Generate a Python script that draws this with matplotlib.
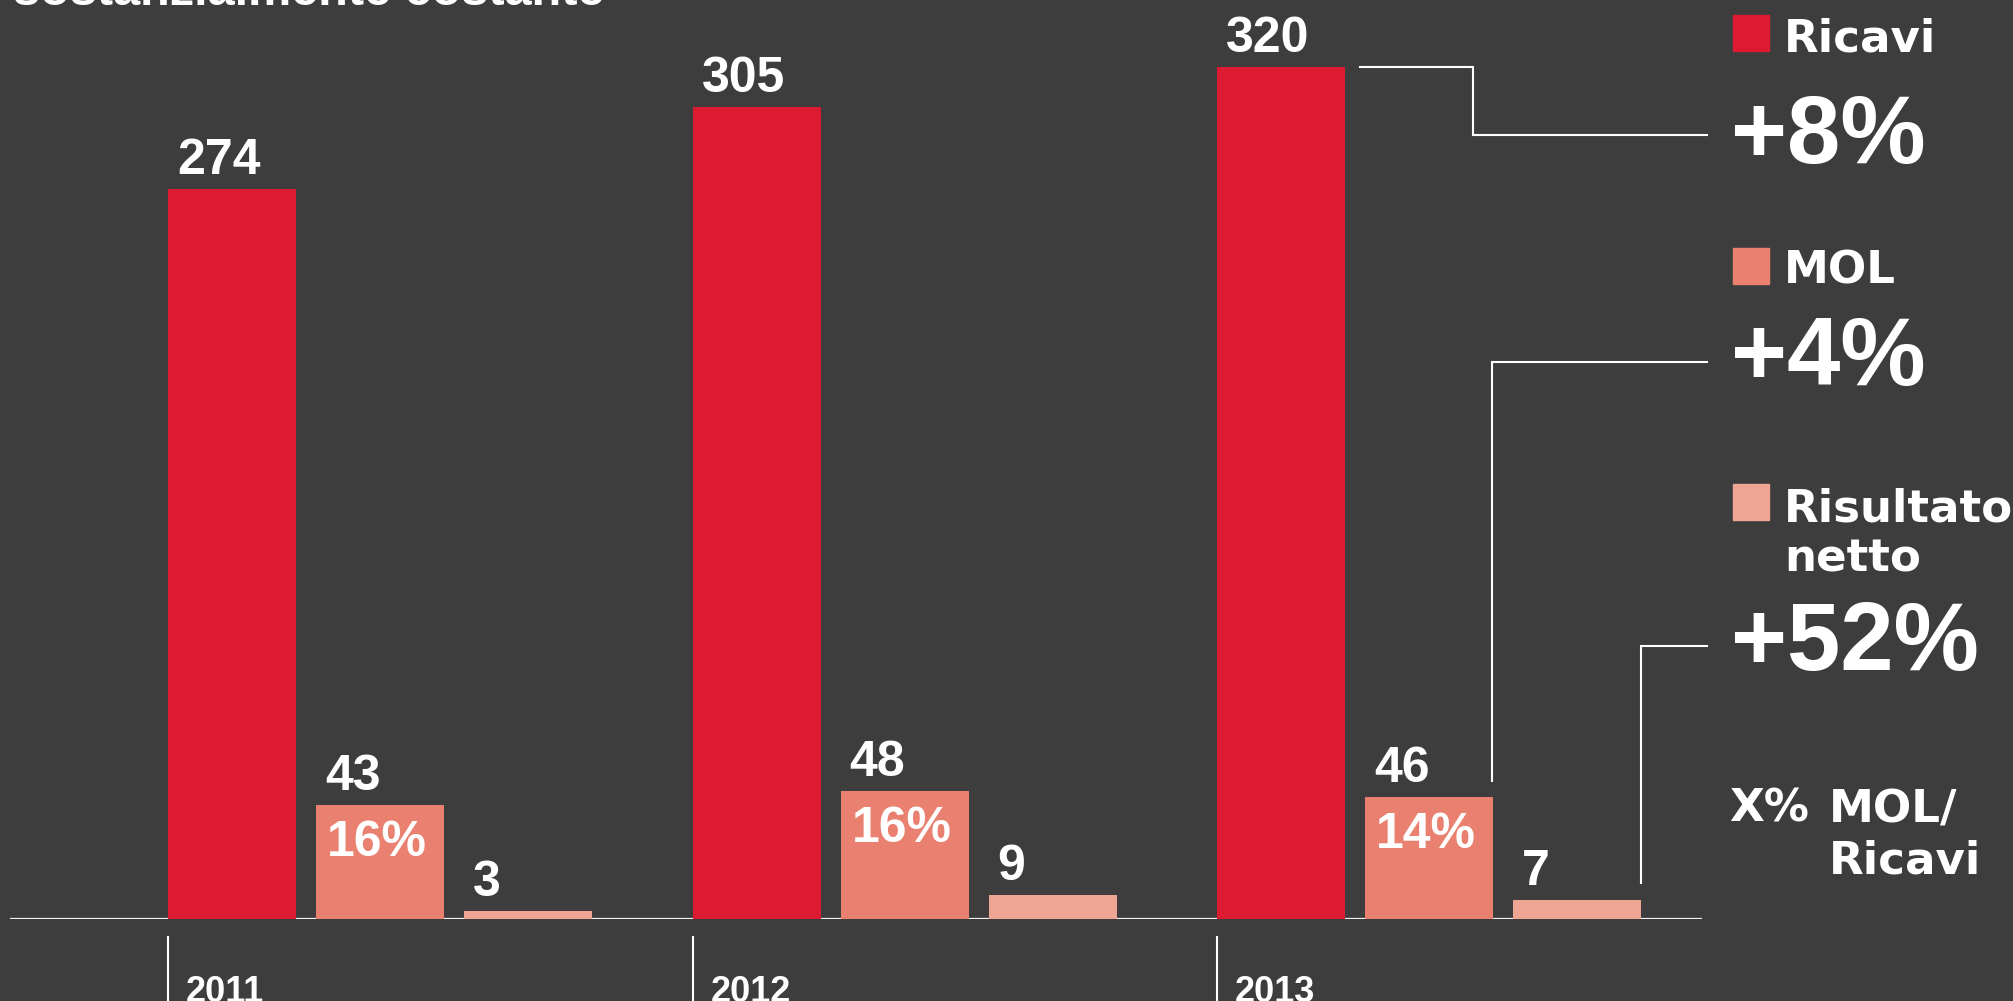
import matplotlib
matplotlib.use('Agg')
import matplotlib.pyplot as plt
from matplotlib import font_manager
from matplotlib.lines import Line2D
from matplotlib.patches import Rectangle
from matplotlib.transforms import IdentityTransform

# ---------------- data ----------------
years = ['2011', '2012', '2013']
ricavi = [274, 305, 320]
mol = [43, 48, 46]
risultato = [3, 9, 7]
mol_pct = ['16%', '16%', '14%']
series_names = ['Ricavi', 'MOL', 'Risultato netto']
changes = ['+8%', '+4%', '+52%']
title_text = 'sostanzialmente costante'
note_prefix = 'X%'
note_lines = ['MOL/', 'Ricavi']

# ---------------- style ----------------
W, H = 2013, 1001
BG = '#3d3d3d'
colors = ['#dc1a32', '#e98070', '#eea594']
FONT = 'Liberation Sans'
WIDE = 'DejaVu Sans'
names = {f.name for f in font_manager.fontManager.ttflist}
NARROW = 'Liberation Sans Narrow' if 'Liberation Sans Narrow' in names else FONT
narrow_kw = {} if NARROW != FONT else {'fontstretch': 'condensed'}

fig = plt.figure(figsize=(W / 100, H / 100), dpi=100, facecolor=BG)
unit = 524.5          # pixels per group
ppv = 2.6625          # pixels per value unit
ax = fig.add_axes([10 / W, 82 / H, 1692 / W, 919 / H])
ax.set_facecolor('none')
ax.set_xlim(-370 / unit, -370 / unit + 1692 / unit)
ax.set_ylim(0, 919 / ppv)
ax.axis('off')

off = 148 / unit
bw = 128 / unit
series = [ricavi, mol, risultato]

ax.axhline(0, color='#f2f2f2', lw=1.6, zorder=1)

for j, vals in enumerate(series):
    xs = [i + (j - 1) * off for i in range(len(years))]
    ax.bar(xs, vals, width=bw, color=colors[j], zorder=2)
    for x, v in zip(xs, vals):
        ax.annotate(str(v), xy=(x - bw / 2, v), xytext=(9, 15),
                    textcoords='offset pixels', ha='left', va='baseline',
                    fontsize=36, fontweight='bold', color='white', family=FONT)
    if j == 1:
        for x, v, p in zip(xs, vals, mol_pct):
            ax.annotate(p, xy=(x - bw / 2, v), xytext=(11, -51),
                        textcoords='offset pixels', ha='left', va='baseline',
                        fontsize=36, fontweight='bold', color='white', family=FONT, zorder=3)

# year ticks and labels
for i, y in enumerate(years):
    x = i - off - bw / 2
    ax.plot([x, x], [-18 / ppv, -85 / ppv], color='white', lw=1.5, clip_on=False)
    ax.annotate(y, xy=(x, 0), xytext=(18, -83), textcoords='offset pixels',
                ha='left', va='baseline', fontsize=26, fontweight='bold',
                color='white', family=NARROW, annotation_clip=False, **narrow_kw)

# title (cut off at top)
fig.text(13 / W, 1 - 5 / H, title_text, ha='left', va='baseline', fontsize=35,
         fontweight='bold', color='white', family=FONT)

# legend on the right
sq_top = [15, 248, 484]
name_base = [51, 284, 521]
chg_base = [163, 385, 670]
for j in range(3):
    fig.add_artist(Rectangle((1733 / W, 1 - (sq_top[j] + 36) / H), 36 / W, 36 / H,
                             transform=fig.transFigure, color=colors[j]))
    for k, line in enumerate(series_names[j].split(' ')):
        fig.text(1784 / W, 1 - (name_base[j] + 51 * k) / H, line, ha='left', va='baseline',
                 fontsize=32.5, fontweight='bold', color='white', family=WIDE)
    fig.text(1731 / W, 1 - chg_base[j] / H, changes[j], ha='left', va='baseline',
             fontsize=69, fontweight='bold', color='white', family=FONT)

fig.text(1729 / W, 1 - 822 / H, note_prefix, ha='left', va='baseline',
         fontsize=32.5, fontweight='bold', color='white', family=WIDE)
for k, line in enumerate(note_lines):
    fig.text(1829 / W, 1 - (822 + 51 * k) / H, line, ha='left', va='baseline',
             fontsize=32.5, fontweight='bold', color='white', family=WIDE)

# connector lines from 2013 bars to the change figures
fig.canvas.draw()
td = ax.transData
i = 2
r_right = td.transform((i - off + bw / 2, ricavi[i]))
m_right = td.transform((i + bw / 2, mol[i]))
n_right = td.transform((i + off + bw / 2, risultato[i]))
xend = 1707
lines = [
    ([r_right[0] + 15, 1473, 1473, xend], [r_right[1], r_right[1], H - 135, H - 135]),
    ([m_right[0] - 1, m_right[0] - 1, xend], [m_right[1] + 16, H - 362, H - 362]),
    ([n_right[0], n_right[0], xend], [n_right[1] + 17, H - 646, H - 646]),
]
for xs, ys in lines:
    fig.add_artist(Line2D(xs, ys, transform=IdentityTransform(), color='white', lw=1.5,
                          solid_joinstyle='miter'))

fig.savefig('out.png', dpi=100, facecolor=BG)
